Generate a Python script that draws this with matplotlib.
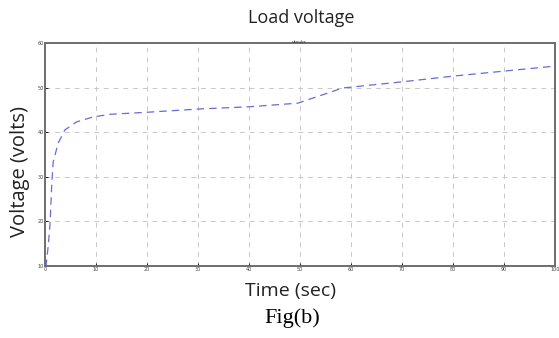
import matplotlib.pyplot as plt

# Load voltage curve
time_s = [0, 0.2, 0.65, 1.0, 1.3, 1.6, 2.6, 3.9, 6.2, 9.4, 12.7, 20.6, 30.4, 40.2, 49.6, 58.4, 70.2, 80.4, 100]
voltage = [10, 10, 14.7, 19.6, 27.7, 33.3, 37.6, 40.5, 42.3, 43.4, 44.0, 44.5, 45.2, 45.7, 46.5, 49.9, 51.3, 52.6, 54.8]

x_ticks = [0, 10, 20, 30, 40, 50, 60, 70, 80, 90, 100]
y_ticks = [10, 20, 30, 40, 50, 60]

fig = plt.figure(figsize=(5.59, 3.38), dpi=100)
ax = fig.add_axes([0.0805, 0.213, 0.912, 0.66])

ax.plot(time_s, voltage, color='#6a6ad8', linewidth=0.9, linestyle=(0, (6, 4)))

ax.set_xlim(0, 100)
ax.set_ylim(10, 60)
ax.set_xticks(x_ticks)
ax.set_yticks(y_ticks)
ax.tick_params(direction='in', length=2, width=0.6, labelsize=3.5,
               labelcolor='#444444', pad=1)
ax.grid(True, color='#c8c8c8', linestyle=(0, (5, 5)), linewidth=0.7)

for s in ax.spines.values():
    s.set_color('#6e6e6e')
    s.set_linewidth(1.4)

fig.text(0.539, 0.947, 'Load voltage', ha='center', va='center',
         fontsize=13, family='Open Sans', color='#222222')
fig.text(0.535, 0.877, 'ukoubs', ha='center', va='center', fontsize=3,
         color='#333333')
fig.text(0.036, 0.494, 'Voltage (volts)', ha='center', va='center',
         rotation=90, fontsize=14.5, family='Open Sans', color='#222222')
fig.text(0.519, 0.138, 'Time (sec)', ha='center', va='center',
         fontsize=14, family='Open Sans', color='#222222')
fig.text(0.522, 0.058, 'Fig(b)', ha='center', va='center',
         fontsize=16, family='Liberation Serif', color='#000000')

fig.savefig('out.png', dpi=100)
